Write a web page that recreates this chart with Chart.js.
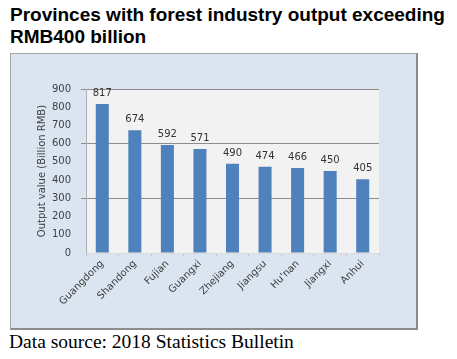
<!DOCTYPE html>
<html>
<head>
<meta charset="utf-8">
<script src="https://cdn.jsdelivr.net/npm/chart.js@4.4.1/dist/chart.umd.min.js"></script>
<style>
  html, body { margin: 0; padding: 0; background: #ffffff; }
  body { width: 457px; height: 359px; position: relative; overflow: hidden; }
  #title { position: absolute; left: 10px; top: 4px; font-family: "Liberation Sans", Arial, sans-serif; font-weight: bold; font-size: 19px; line-height: 22px; color: #000; white-space: nowrap; }
  #box { position: absolute; left: 10px; top: 53px; width: 405px; height: 274px; background: #dbe5f1; border-left: 1px solid #a6a6a6; border-top: 1px solid #a6a6a6; border-right: 2px solid #8c8c8c; border-bottom: 2px solid #8c8c8c; }
  #footer { position: absolute; left: 9px; top: 331px; font-family: "Liberation Serif", "Times New Roman", serif; font-size: 19.5px; line-height: 22px; color: #000; white-space: nowrap; }
</style>
</head>
<body>
<div id="title">Provinces with forest industry output exceeding<br>RMB400 billion</div>
<div id="box"><canvas id="c" width="405" height="274"></canvas></div>
<div id="footer">Data source: 2018 Statistics Bulletin</div>
<script>
const provinces = ["Guangdong", "Shandong", "Fujian", "Guangxi", "Zhejiang", "Jiangsu", "Hu'nan", "Jiangxi", "Anhui"];
const outputValues = [817, 674, 592, 571, 490, 474, 466, 450, 405];
const yTicks = [0, 100, 200, 300, 400, 500, 600, 700, 800, 900];
const gridValues = [300, 600, 900];
const yAxisTitle = "Output value (Billion RMB)";

const plotBg = {
  id: 'plotBg',
  beforeDraw(chart) {
    const { ctx, chartArea: a } = chart;
    ctx.save();
    ctx.fillStyle = '#f2f2f2';
    ctx.fillRect(a.left, a.top, a.right - a.left, a.bottom - a.top);
    ctx.restore();
  }
};

const valueLabels = {
  id: 'valueLabels',
  afterDatasetsDraw(chart) {
    const { ctx } = chart;
    const meta = chart.getDatasetMeta(0);
    ctx.save();
    ctx.font = '10px "DejaVu Sans", sans-serif';
    ctx.fillStyle = '#333333';
    ctx.textAlign = 'center';
    ctx.textBaseline = 'alphabetic';
    meta.data.forEach((bar, i) => {
      ctx.fillText(String(outputValues[i]), bar.x, bar.y - 8);
    });
    ctx.restore();
  }
};

new Chart(document.getElementById('c'), {
  type: 'bar',
  data: {
    labels: provinces,
    datasets: [{
      data: outputValues,
      backgroundColor: '#4f81bd',
      borderWidth: 0,
      barPercentage: 0.4,
      categoryPercentage: 1.0
    }]
  },
  options: {
    responsive: false,
    animation: false,
    devicePixelRatio: 1,
    layout: { padding: { top: 35, right: 37, bottom: 0, left: 0 } },
    plugins: { legend: { display: false }, tooltip: { enabled: false } },
    scales: {
      x: {
        offset: true,
        grid: { display: true, offset: true, drawOnChartArea: false, tickLength: 3, color: '#c8c8c8' },
        border: { display: true, color: '#d9d9d9' },
        ticks: {
          minRotation: 45, maxRotation: 45, autoSkip: false, padding: 2,
          color: '#404040',
          font: { family: '"DejaVu Sans", sans-serif', size: 10 }
        },
        afterFit(scale) { scale.height = 75; }
      },
      y: {
        min: 0, max: 900,
        afterBuildTicks(scale) { scale.ticks = yTicks.map(v => ({ value: v })); },
        grid: {
          color: (ctx) => (ctx.tick && gridValues.includes(ctx.tick.value)) ? '#8c8c8c' : 'rgba(0,0,0,0)',
          lineWidth: 1,
          tickLength: 5
        },
        border: { display: true, color: '#b0b0b0' },
        ticks: {
          color: '#404040',
          padding: 10,
          font: { family: '"DejaVu Sans", sans-serif', size: 10 }
        },
        title: {
          display: true,
          text: yAxisTitle,
          color: '#404040',
          font: { family: '"DejaVu Sans", sans-serif', size: 10 },
          padding: { top: 25, bottom: 0 }
        },
        afterFit(scale) { scale.width = 75; }
      }
    }
  },
  plugins: [plotBg, valueLabels]
});
</script>
</body>
</html>
